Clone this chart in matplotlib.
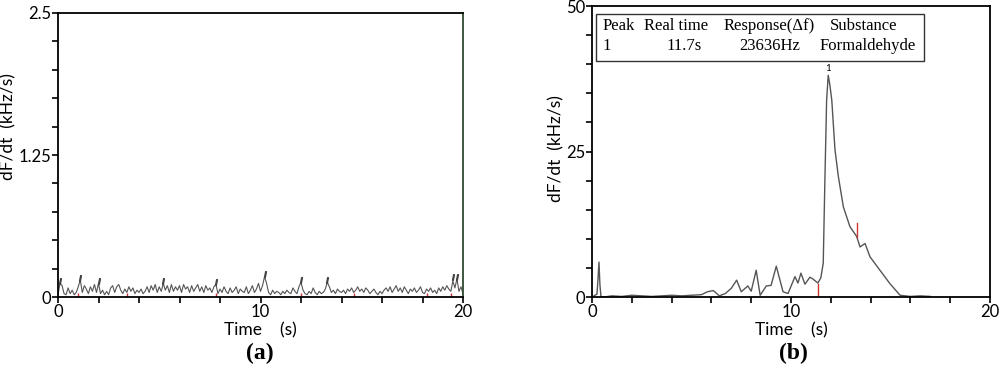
import numpy as np
import matplotlib
matplotlib.use("Agg")
import matplotlib.pyplot as plt
from matplotlib.ticker import MultipleLocator

# panel (a): background noise, sampled every 0.1 s from 0 to 20 s (kHz/s)
noise_a = [
    0.02, 0.12, 0.10, 0.03, 0.02, 0.08, 0.03, 0.06, 0.02, 0.04, 0.09, 0.15, 0.04, 0.10, 0.07, 0.03, 0.09, 0.05, 0.11, 0.04,
    0.12, 0.03, 0.06, 0.02, 0.05, 0.02, 0.08, 0.10, 0.04, 0.09, 0.11, 0.06, 0.03, 0.07, 0.04, 0.09, 0.05, 0.08, 0.03, 0.06,
    0.04, 0.07, 0.03, 0.05, 0.09, 0.04, 0.10, 0.06, 0.11, 0.04, 0.09, 0.05, 0.12, 0.06, 0.10, 0.04, 0.11, 0.05, 0.09, 0.06,
    0.10, 0.04, 0.11, 0.07, 0.09, 0.04, 0.10, 0.05, 0.08, 0.11, 0.05, 0.09, 0.04, 0.10, 0.06, 0.08, 0.04, 0.09, 0.11, 0.03,
    0.07, 0.04, 0.09, 0.05, 0.03, 0.08, 0.04, 0.06, 0.09, 0.03, 0.07, 0.05, 0.04, 0.09, 0.03, 0.06, 0.10, 0.04, 0.07, 0.12,
    0.05, 0.10, 0.18, 0.12, 0.04, 0.02, 0.06, 0.03, 0.05, 0.04, 0.02, 0.05, 0.03, 0.06, 0.04, 0.03, 0.08, 0.05, 0.03, 0.09,
    0.13, 0.06, 0.03, 0.02, 0.05, 0.03, 0.08, 0.04, 0.02, 0.05, 0.03, 0.04, 0.07, 0.13, 0.09, 0.04, 0.06, 0.03, 0.07, 0.05,
    0.04, 0.06, 0.03, 0.07, 0.05, 0.08, 0.04, 0.06, 0.09, 0.05, 0.07, 0.04, 0.08, 0.06, 0.03, 0.05, 0.07, 0.04, 0.02, 0.05,
    0.03, 0.06, 0.08, 0.05, 0.09, 0.04, 0.07, 0.10, 0.05, 0.08, 0.04, 0.09, 0.06, 0.03, 0.07, 0.05, 0.08, 0.04, 0.06, 0.09,
    0.04, 0.03, 0.07, 0.05, 0.08, 0.04, 0.06, 0.03, 0.08, 0.05, 0.09, 0.06, 0.10, 0.07, 0.05, 0.14, 0.08, 0.16, 0.05, 0.09,
    0.03,
]
# small peak markers above the biggest noise spikes
peaks_a_t = [0.1, 1.1, 2.0, 5.2, 7.8, 10.2, 12.0, 13.3, 19.5, 19.7]
peaks_a_v = [0.14, 0.17, 0.14, 0.14, 0.13, 0.20, 0.15, 0.15, 0.18, 0.18]
red_a_t = [1.0, 3.4, 7.8, 12.0, 14.6, 18.2, 19.4]

# panel (b): formaldehyde response
time_b = [0.1, 0.25, 0.3, 0.35, 0.4, 0.45, 0.6, 1.0, 1.5, 2.0, 2.5, 3.0, 3.5, 4.0, 4.5, 5.0,
          5.5, 5.8, 6.1, 6.4, 6.7, 7.0, 7.27, 7.5, 7.83, 8.0, 8.25, 8.45, 8.76, 9.0, 9.26,
          9.6, 9.85, 10.2, 10.35, 10.5, 10.7, 10.95, 11.1, 11.35, 11.5, 11.62, 11.7, 11.79,
          11.87, 11.95, 12.05, 12.21, 12.38, 12.63, 12.96, 13.3, 13.47, 13.72, 13.97, 14.47,
          14.97, 15.48, 16.0, 16.5, 17.0]
resp_b = [0.2, 0.5, 3.0, 6.0, 2.0, 0.1, 0.0, 0.2, 0.1, 0.3, 0.2, 0.1, 0.2, 0.3, 0.2, 0.3,
          0.4, 0.9, 1.1, 0.2, 0.6, 1.5, 2.9, 0.9, 1.9, 1.0, 4.6, 0.3, 1.9, 2.0, 5.3,
          0.9, 0.6, 3.5, 2.4, 4.1, 2.2, 3.4, 3.1, 2.4, 3.3, 5.8, 19.6, 33.8,
          38.1, 36.5, 33.8, 25.3, 20.7, 15.5, 12.1, 10.4, 8.6, 9.2, 6.9, 4.6,
          2.3, 0.3, 0.1, 0.2, 0.1]
peak_time, peak_val = 11.87, 38.1
red_b = [(11.35, 0.0, 2.2), (13.3, 10.3, 12.8)]

table_head = ["Peak", "Real time", "Response(\u0394f)", "Substance"]
table_row = ["1", "11.7s", "23636Hz", "Formaldehyde"]

plt.rcParams["font.family"] = ["Lato", "DejaVu Sans"]
line_c = "#555555"

fig = plt.figure(figsize=(10, 3.8), dpi=100)
ax_a = fig.add_axes([0.058, 0.2184, 0.405, 0.7474])
ax_b = fig.add_axes([0.592, 0.2184, 0.398, 0.7658])


def style(ax, ymax, ystep, yticks, ylabels):
    ax.set_xlim(0, 20)
    ax.set_ylim(0, ymax)
    ax.set_xticks([0, 10, 20])
    ax.xaxis.set_minor_locator(MultipleLocator(2))
    ax.set_yticks(yticks)
    ax.set_yticklabels(ylabels)
    ax.yaxis.set_minor_locator(MultipleLocator(ystep))
    ax.tick_params(which="both", direction="out", labelsize=12, width=1.2, color="black")
    ax.tick_params(which="major", length=4, pad=1)
    ax.tick_params(which="minor", length=4)
    for s in ax.spines.values():
        s.set_linewidth(1.3)
    ax.set_xlabel("Time    (s)", fontsize=12.5, labelpad=2)
    ax.set_ylabel("dF/dt  (kHz/s)", fontsize=12.5, labelpad=1)


# (a)
t_a = np.linspace(0, 20, len(noise_a))
ax_a.plot(t_a, noise_a, color=line_c, lw=0.8)
ax_a.plot(peaks_a_t, peaks_a_v, ls="none", marker="$I$", ms=4, color="#444444")
ax_a.plot(red_a_t, [0.02] * len(red_a_t), ls="none", marker="|", ms=3, color="#cc3333")
style(ax_a, 2.5, 0.25, [0, 1.25, 2.5], ["0", "1.25", "2.5"])
ax_a.spines["right"].set_color("#2e4a2e")
ax_a.yaxis.label.set_position((0, 0.6))

# (b)
ax_b.plot(time_b, resp_b, color=line_c, lw=1.0)
for t, y0, y1 in red_b:
    ax_b.plot([t, t], [y0, y1], color="#cc3333", lw=1)
ax_b.text(peak_time, peak_val + 0.4, "1", ha="center", va="bottom", fontsize=7)
style(ax_b, 50, 5, [0, 25, 50], ["0", "25", "50"])
ax_b.yaxis.label.set_position((0, 0.51))

# result table inside (b)
ax_b.add_patch(plt.Rectangle((0.2, 40.5), 16.5, 8.1, fill=False, lw=1.0, ec="#333333"))
serif = ["Liberation Serif", "DejaVu Serif"]
head_x = [0.55, 2.6, 6.6, 11.95]
row_x = [0.55, 3.75, 7.4, 11.45]
for x, s in zip(head_x, table_head):
    ax_b.text(x, 46.6, s, fontsize=12, family=serif, va="center", ha="left")
for x, s in zip(row_x, table_row):
    ax_b.text(x, 43.2, s, fontsize=12, family=serif, va="center", ha="left")

fig.text(0.26, 0.07, "(a)", fontsize=17, family=serif, weight="bold", ha="center", va="center")
fig.text(0.793, 0.07, "(b)", fontsize=17, family=serif, weight="bold", ha="center", va="center")

fig.savefig("out.png", dpi=100)
